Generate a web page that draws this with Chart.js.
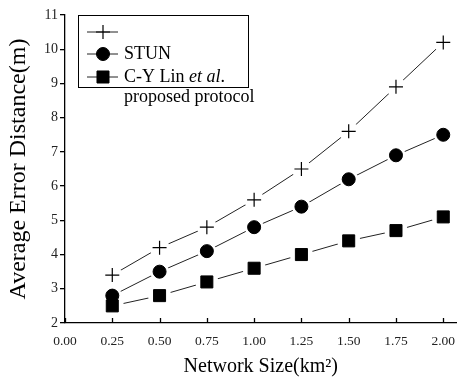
<!DOCTYPE html>
<html>
<head>
<meta charset="utf-8">
<script src="https://cdn.jsdelivr.net/npm/chart.js@4.4.0/dist/chart.umd.min.js"></script>
<style>
  html, body { margin: 0; padding: 0; background: #fff; }
  #wrap { width: 466px; height: 383px; position: relative; }
</style>
</head>
<body>
<div id="wrap"><canvas id="errChart" width="466" height="383"></canvas></div>
<script>
const networkSizes = [0.25, 0.5, 0.75, 1.0, 1.25, 1.5, 1.75, 2.0];
const xTickValues = [0, 0.25, 0.5, 0.75, 1.0, 1.25, 1.5, 1.75, 2.0];
const plusSeries = [3.4, 4.2, 4.8, 5.6, 6.5, 7.6, 8.9, 10.2];
const stunSeries = [2.8, 3.5, 4.1, 4.8, 5.4, 6.2, 6.9, 7.5];
const linSeries = [2.5, 2.8, 3.2, 3.6, 4.0, 4.4, 4.7, 5.1];

const serif = "'Liberation Serif', 'DejaVu Serif', serif";

const toPoints = vals => vals.map((v, i) => ({ x: networkSizes[i], y: v }));

const makeSet = (label, vals, style, radius) => ({
    label: label,
    data: toPoints(vals),
    borderColor: '#222',
    borderWidth: 1,
    pointStyle: style,
    pointRadius: radius,
    pointBackgroundColor: '#000',
    pointBorderColor: '#000',
    pointBorderWidth: style === 'cross' ? 1.2 : 1,
    fill: false,
    tension: 0
});

// white gap round each marker (all halos first, then all markers)
const markerGaps = {
    id: 'markerGaps',
    afterDatasetsDraw(chart) {
        const ctx = chart.ctx;
        ctx.save();
        ctx.fillStyle = '#fff';
        chart.data.datasets.forEach((ds, i) => {
            chart.getDatasetMeta(i).data.forEach(pt => {
                ctx.beginPath();
                ctx.arc(pt.x, pt.y, ds.pointRadius + 3, 0, Math.PI * 2);
                ctx.fill();
            });
        });
        ctx.restore();
        chart.data.datasets.forEach((ds, i) => {
            chart.getDatasetMeta(i).data.forEach(pt => pt.draw(ctx, chart.chartArea));
        });
    }
};

// inward x ticks
const tickMarks = {
    id: 'tickMarks',
    afterDraw(chart) {
        const ctx = chart.ctx;
        const xs = chart.scales.x;
        ctx.save();
        ctx.strokeStyle = '#000';
        ctx.lineWidth = 1.3;
        xs.ticks.forEach((t, i) => {
            const px = Math.round(xs.getPixelForTick(i)) + 0.5;
            ctx.beginPath();
            ctx.moveTo(px, xs.top);
            ctx.lineTo(px, xs.top - 5);
            ctx.stroke();
        });
        ctx.restore();
    }
};

const legendBox = {
    id: 'legendBox',
    afterDraw(chart) {
        const ctx = chart.ctx;
        ctx.save();
        ctx.strokeStyle = '#000';
        ctx.lineWidth = 1;
        ctx.strokeRect(78.5, 15.5, 170, 72);
        const rows = [32, 54, 77];
        chart.data.datasets.forEach((ds, i) => {
            const y = rows[i];
            ctx.strokeStyle = '#222';
            ctx.lineWidth = 1;
            ctx.beginPath();
            ctx.moveTo(87, y);
            ctx.lineTo(118, y);
            ctx.stroke();
            ctx.fillStyle = '#000';
            ctx.strokeStyle = '#000';
            ctx.lineWidth = ds.pointBorderWidth;
            Chart.helpers.drawPoint(ctx, {
                pointStyle: ds.pointStyle,
                radius: ds.pointRadius,
                rotation: 0,
                borderWidth: ds.pointBorderWidth
            }, 103, y);
        });
        ctx.fillStyle = '#000';
        ctx.textBaseline = 'middle';
        ctx.font = '18px ' + serif;
        ctx.fillText('STUN', 124, rows[1]);
        ctx.fillText('C-Y Lin ', 124, rows[2]);
        const w = ctx.measureText('C-Y Lin ').width;
        ctx.font = 'italic 18px ' + serif;
        ctx.fillText('et al', 124 + w, rows[2]);
        const w2 = ctx.measureText('et al').width;
        ctx.font = '18px ' + serif;
        ctx.fillText('.', 124 + w + w2, rows[2]);
        ctx.fillText('proposed protocol', 124, 97);
        ctx.restore();
    }
};

new Chart(document.getElementById('errChart').getContext('2d'), {
    type: 'line',
    data: {
        datasets: [
            makeSet('', plusSeries, 'cross', 7),
            makeSet('STUN', stunSeries, 'circle', 6.5),
            makeSet('C-Y Lin et al. proposed protocol', linSeries, 'rect', 8.5)
        ]
    },
    options: {
        responsive: false,
        animation: false,
        layout: { padding: { top: 15, right: 0, left: 0, bottom: 0 } },
        plugins: {
            legend: { display: false },
            tooltip: { enabled: false }
        },
        scales: {
            x: {
                type: 'linear',
                min: 0,
                max: 2.07,
                afterBuildTicks: s => { s.ticks = xTickValues.map(v => ({ value: v })); },
                afterFit: s => { s.height = 60; },
                border: { display: true, color: '#000', width: 1.3 },
                grid: { display: false, drawOnChartArea: false },
                ticks: {
                    color: '#222',
                    font: { family: serif, size: 13.5 },
                    padding: 2,
                    maxRotation: 0,
                    callback: v => v.toFixed(2)
                },
                title: {
                    display: true,
                    text: 'Network Size(km\u00B2)',
                    color: '#000',
                    font: { family: serif, size: 20 },
                    padding: { top: 8 }
                }
            },
            y: {
                min: 2,
                max: 11,
                afterFit: s => { s.width = 65; },
                border: { display: true, color: '#000', width: 1.3 },
                grid: { drawOnChartArea: false, drawTicks: true, tickLength: 5, color: '#000', lineWidth: 1.3 },
                ticks: {
                    stepSize: 1,
                    color: '#222',
                    font: { family: serif, size: 14 },
                    padding: 2
                },
                title: {
                    display: true,
                    text: 'Average Error Distance(m)',
                    color: '#000',
                    font: { family: serif, size: 24 },
                    padding: { bottom: 2 }
                }
            }
        }
    },
    plugins: [markerGaps, tickMarks, legendBox]
});
</script>
</body>
</html>
